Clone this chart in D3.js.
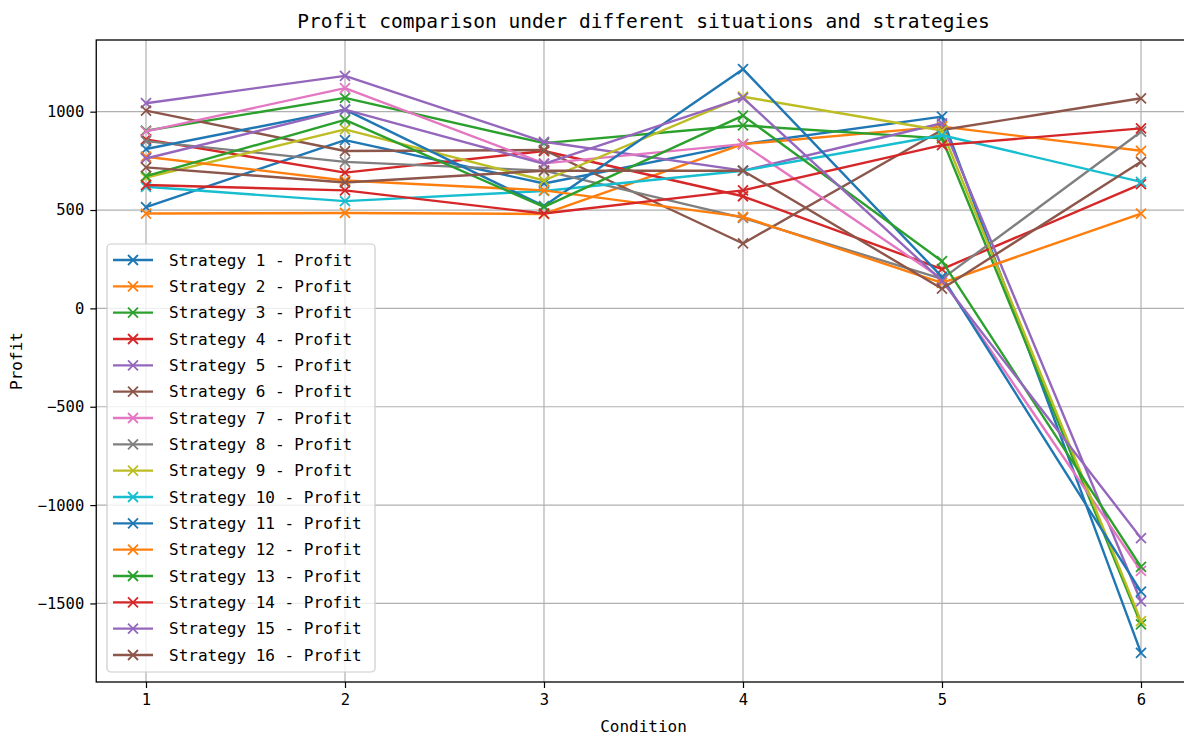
<!DOCTYPE html>
<html lang="en">
<head>
    <meta charset="UTF-8">
    <title>Profit comparison</title>
    <style>
        body { margin: 0; background: #fff; }
        text { font-family: "DejaVu Sans Mono", monospace; fill: #000; }
    </style>
</head>
<body>
    <div class="container"></div>
    <script src="https://cdn.jsdelivr.net/npm/d3@7/dist/d3.min.js"></script>
    <script>
        // data
        const conditions = [1, 2, 3, 4, 5, 6]
        const strategyNames = d3.range(1, 17).map(i => `Strategy ${i} - Profit`)
        const colors = ["#1f77b4", "#ff7f0e", "#2ca02c", "#d62728", "#9467bd",
                        "#8c564b", "#e377c2", "#7f7f7f", "#bcbd22", "#17becf"]
        const yTicks = [-1500, -1000, -500, 0, 500, 1000]

        const s1  = [515, 855, 635, 835, 975, -1751]
        const s2  = [482, 485, 480, 835, 924, 801]
        const s3  = [903, 1070, 840, 930, 864, -1606]
        const s4  = [859, 690, 800, 570, 200, 632]
        const s5  = [1043, 1182, 847, 700, 941, -1490]
        const s6  = [1005, 800, 805, 330, 907, 1068]
        const s7  = [900, 1120, 737, 835, 150, -1335]
        const s8  = [850, 745, 700, 460, 150, 898]
        const s9  = [665, 910, 650, 1076, 904, -1590]
        const s10 = [618, 545, 597, 700, 880, 643]
        const s11 = [810, 1010, 520, 1216, 160, -1440]
        const s12 = [771, 650, 600, 465, 130, 482]
        const s13 = [672, 958, 516, 980, 240, -1314]
        const s14 = [627, 600, 482, 600, 830, 915]
        const s15 = [762, 1010, 735, 1070, 140, -1168]
        const s16 = [717, 640, 700, 700, 100, 745]
        const profits = [s1, s2, s3, s4, s5, s6, s7, s8, s9, s10, s11, s12, s13, s14, s15, s16]

        const width = 1184
        const height = 736
        const plotLeft = 96.25, plotRight = 1190.75, plotTop = 40, plotBottom = 682

        const svg = d3.select('.container').append("svg")
            .attr("width", width)
            .attr("height", height)

        const xScale = d3.scaleLinear()
            .domain([0.75, 6.25])
            .range([plotLeft, plotRight])

        const yMin = d3.min(profits, s => d3.min(s))
        const yMax = d3.max(profits, s => d3.max(s))
        const pad = (yMax - yMin) * 0.05
        const yScale = d3.scaleLinear()
            .domain([yMin - pad, yMax + pad])
            .range([plotBottom, plotTop])

        // grid
        const grid = svg.append("g").attr("class", "grid")
        grid.selectAll(".vx").data(conditions).join("line")
            .attr("x1", d => xScale(d)).attr("x2", d => xScale(d))
            .attr("y1", plotTop).attr("y2", plotBottom)
            .attr("stroke", "#b0b0b0").attr("stroke-width", 1.2)
        grid.selectAll(".hy").data(yTicks).join("line")
            .attr("x1", plotLeft).attr("x2", plotRight)
            .attr("y1", d => yScale(d)).attr("y2", d => yScale(d))
            .attr("stroke", "#b0b0b0").attr("stroke-width", 1.2)

        // series
        const line = d3.line()
            .x((d, i) => xScale(conditions[i]))
            .y(d => yScale(d))

        const xMark = (g, size, color) => {
            const h = size / 2
            g.append("path")
                .attr("d", `M${-h},${-h}L${h},${h}M${-h},${h}L${h},${-h}`)
                .attr("stroke", color).attr("stroke-width", 1.8).attr("fill", "none")
        }

        const plot = svg.append("g").attr("class", "series")
        profits.forEach((s, k) => {
            const color = colors[k % 10]
            plot.append("path")
                .datum(s)
                .attr("d", line)
                .attr("fill", "none")
                .attr("stroke", color)
                .attr("stroke-width", 2.4)
                .attr("stroke-linejoin", "round")
            s.forEach((v, i) => {
                const g = plot.append("g")
                    .attr("transform", `translate(${xScale(conditions[i])},${yScale(v)})`)
                xMark(g, 10, color)
            })
        })

        // axes
        const bottomAxis = d3.axisBottom(xScale).tickValues(conditions).tickSize(6).tickPadding(6)
            .tickFormat(d3.format("d"))
        const leftAxis = d3.axisLeft(yScale).tickValues(yTicks).tickSize(6).tickPadding(6)
            .tickFormat(d => d < 0 ? "\u2212" + Math.abs(d) : d)

        const bx = svg.append("g").attr("transform", `translate(0,${plotBottom})`).call(bottomAxis)
        const ly = svg.append("g").attr("transform", `translate(${plotLeft},0)`).call(leftAxis)
        ;[bx, ly].forEach(a => {
            a.select(".domain").remove()
            a.selectAll(".tick line").attr("stroke", "#000").attr("stroke-width", 1.2)
            a.selectAll(".tick text").style("font-size", "15.5px").style("font-family", "DejaVu Sans Mono")
        })

        // spines
        svg.append("rect")
            .attr("x", plotLeft).attr("y", plotTop)
            .attr("width", plotRight - plotLeft).attr("height", plotBottom - plotTop)
            .attr("fill", "none").attr("stroke", "#000").attr("stroke-width", 1.3)

        // labels
        svg.append("text")
            .attr("x", (plotLeft + plotRight) / 2).attr("y", 28)
            .attr("text-anchor", "middle")
            .style("font-size", "19.5px")
            .text("Profit comparison under different situations and strategies")
        svg.append("text")
            .attr("x", xScale(3.5)).attr("y", 732)
            .attr("text-anchor", "middle")
            .style("font-size", "16px")
            .text("Condition")
        svg.append("text")
            .attr("transform", `translate(22,${(plotTop + plotBottom) / 2}) rotate(-90)`)
            .attr("text-anchor", "middle")
            .style("font-size", "16px")
            .text("Profit")

        // legend
        const legend = svg.append("g").attr("class", "legend")
        legend.append("rect")
            .attr("x", 107).attr("y", 244)
            .attr("width", 268).attr("height", 428)
            .attr("rx", 4)
            .attr("fill", "#fff").attr("fill-opacity", 0.8)
            .attr("stroke", "#cccccc").attr("stroke-width", 1.2)
        const rowY = d3.scaleLinear().domain([0, 15]).range([260, 655])
        strategyNames.forEach((name, k) => {
            const color = colors[k % 10]
            const y = rowY(k)
            legend.append("line")
                .attr("x1", 113).attr("x2", 153).attr("y1", y).attr("y2", y)
                .attr("stroke", color).attr("stroke-width", 2.4)
            xMark(legend.append("g").attr("transform", `translate(133,${y})`), 10, color)
            legend.append("text")
                .attr("x", 169).attr("y", y).attr("dy", "0.35em")
                .style("font-size", "16px")
                .text(name)
        })
    </script>
</body>
</html>
